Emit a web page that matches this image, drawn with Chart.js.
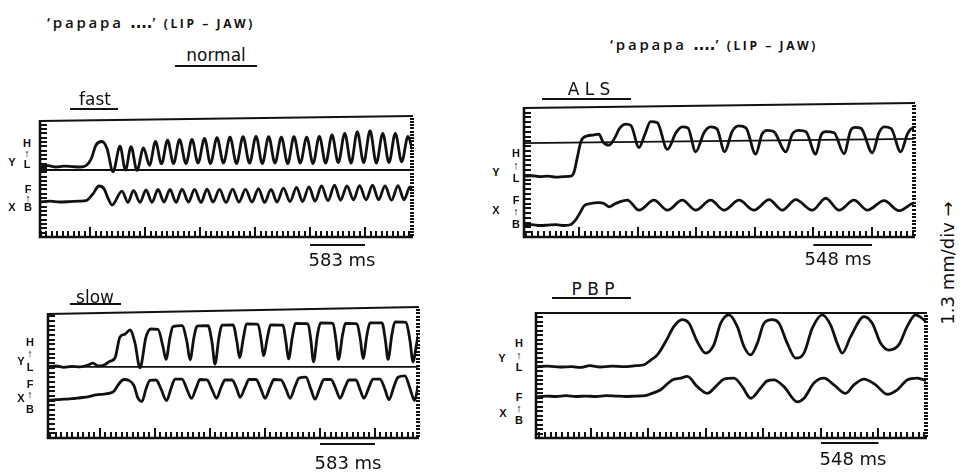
<!DOCTYPE html>
<html>
<head>
<meta charset="utf-8">
<script src="https://cdn.jsdelivr.net/npm/chart.js@4/dist/chart.umd.min.js"></script>
<style>
  body { margin: 0; width: 968px; height: 474px; background: #fff; position: relative; overflow: hidden;
         font-family: "DejaVu Sans", sans-serif; color: #111; }
  canvas { position: absolute; }
  .t { position: absolute; white-space: nowrap; line-height: 1; transform: translate(-50%, -50%); }
  .ax { font-family: "Liberation Sans", sans-serif; font-weight: bold; font-size: 11px; }
  .hd { font-family: "Open Sans", "DejaVu Sans", sans-serif; font-weight: 600; }
  .rule { position: absolute; height: 2px; background: #111; }
</style>
</head>
<body>
<script>
// ---- lip (Y) and jaw (X) traces, time in ms, position in divisions ----
const fastYms = [-530,-445,-360,-276,-191,-106,-42,11,64,127,180,244,318,376,435,498,567,631,694,758,822,885,949,1018,1081,1145,1214,1277,1346,1415,1484,1553,1622,1691,1760,1826,1894,1961,2028,2096,2162,2229,2297,2364,2431,2498,2565,2632,2700,2767,2833,2901,2968,3035,3103,3169,3236,3304,3371,3413];
const fastY   = [16.2,16.5,16.2,16.4,16.3,16.2,16.5,18.0,21.3,22.1,20.5,15.1,21.0,15.5,20.9,15.4,20.6,16.6,22.1,16.9,22.4,17.0,22.5,17.0,22.6,17.1,22.8,17.0,23.0,17.1,23.1,17.0,23.2,17.1,23.3,17.0,23.2,17.1,23.1,17.0,23.2,17.1,23.1,17.0,23.3,17.1,23.6,17.2,24.0,17.1,24.4,17.2,24.6,17.1,24.0,17.2,24.0,17.4,23.3,20.5];
const fastXms = [-530,-424,-318,-212,-106,-42,32,95,148,191,233,339,403,461,530,594,657,721,784,848,912,975,1044,1108,1177,1240,1304,1373,1442,1511,1579,1648,1717,1786,1850,1919,1982,2051,2120,2189,2253,2321,2385,2454,2523,2592,2655,2724,2793,2857,2926,2995,3058,3127,3196,3265,3328,3392,3413];
const fastX   = [8.1,8.3,8.1,8.2,8.3,8.4,10.0,11.8,11.2,9.0,7.4,10.6,8.0,10.8,8.0,10.9,8.0,11.0,8.1,11.0,8.0,11.1,8.1,11.0,8.0,11.1,8.1,11.0,8.0,11.1,8.1,11.0,8.1,11.2,8.0,11.0,8.1,11.3,8.2,11.5,8.2,11.6,8.3,11.8,8.4,12.0,8.5,11.8,8.6,11.9,8.6,12.0,8.6,11.8,8.5,11.9,8.6,11.6,11.0];

const slowYms = [-551,-466,-382,-297,-212,-127,-74,-21,42,106,159,212,265,318,371,424,488,541,615,668,700,742,774,869,922,954,997,1028,1145,1187,1219,1261,1293,1410,1452,1479,1521,1553,1675,1712,1733,1776,1808,1940,1972,1998,2041,2072,2205,2236,2263,2305,2337,2470,2502,2528,2571,2602,2724,2762,2788,2830,2862,2989,3026,3053,3095,3127,3244,3286,3318,3355,3371];
const slowY   = [15.2,15.4,15.1,15.3,15.2,15.6,16.0,15.4,15.6,16.4,17.1,21.6,22.2,23.1,20.3,15.0,21.6,23.3,23.2,19.5,16.8,21.5,23.8,24.0,20.5,16.7,21.6,23.9,24.0,20.5,15.8,21.5,24.1,24.2,20.5,17.2,21.5,24.4,24.3,20.5,17.6,21.6,24.2,24.1,20.5,16.9,21.8,24.5,24.4,20.8,16.3,22.0,24.6,24.5,20.8,16.8,22.0,24.5,24.4,20.8,17.0,22.0,24.6,24.6,20.8,16.8,22.2,24.8,24.7,20.8,16.3,20.0,21.8];
const slowXms = [-551,-466,-382,-297,-212,-127,-42,42,106,148,201,254,307,360,403,445,488,530,594,647,705,753,795,869,922,970,1018,1060,1134,1187,1235,1283,1325,1399,1452,1484,1537,1579,1654,1707,1749,1802,1844,1918,1972,2014,2067,2109,2183,2236,2279,2332,2374,2448,2502,2544,2597,2639,2714,2756,2798,2851,2894,2968,3021,3063,3116,3159,3233,3286,3334,3371];
const slowX   = [8.0,8.2,8.3,8.4,8.6,8.8,9.2,9.4,9.6,10.0,11.6,12.5,12.3,11.2,8.5,7.8,10.5,12.3,12.4,10.5,8.0,10.6,12.6,12.6,10.4,8.5,10.6,12.5,12.4,10.4,8.5,10.8,12.4,12.4,10.4,8.7,10.8,12.5,12.5,10.4,8.5,10.8,12.5,12.4,10.4,8.5,11.0,12.8,13.0,10.4,8.3,10.8,12.5,12.5,10.4,8.5,10.8,12.4,12.4,10.4,8.5,10.8,12.6,12.6,10.4,8.2,11.0,13.0,13.3,10.6,8.0,11.0];

const alsYms = [-514,-439,-365,-290,-215,-140,-75,-47,-14,19,75,131,187,224,281,327,383,439,486,561,617,670,732,826,907,966,1019,1091,1169,1231,1290,1362,1431,1496,1561,1652,1711,1761,1823,1933,1994,2057,2122,2213,2263,2307,2384,2478,2540,2581,2637,2742,2805,2852,2917,3008,3070,3116,3132];
const alsY   = [12.7,12.8,12.6,12.7,12.5,12.6,12.7,13.5,16.8,20.0,21.1,21.3,21.5,19.9,19.2,20.4,22.8,23.6,23.3,18.7,21.5,24.1,23.9,18.3,21.8,23.0,22.8,17.8,21.8,23.0,22.6,17.8,22.0,23.2,22.8,17.3,21.5,22.3,22.0,17.8,21.5,22.3,22.0,17.3,21.3,22.0,21.8,17.4,22.3,22.9,22.7,17.6,21.8,23.0,22.7,17.8,21.5,22.7,22.5];
const alsXms = [-514,-439,-365,-290,-215,-140,-75,-37,16,47,109,187,234,281,343,452,561,701,826,966,1091,1231,1356,1496,1636,1777,1901,2026,2181,2307,2431,2571,2696,2852,2992,3116,3132];
const alsX   = [2.5,2.6,2.4,2.5,2.6,2.4,2.6,3.4,5.3,6.5,7.0,7.2,7.0,6.3,7.0,7.7,5.6,7.7,5.6,7.7,5.6,7.7,5.6,7.7,5.6,7.8,5.6,7.8,5.6,8.1,5.6,7.7,5.6,7.6,5.5,7.0,7.1];

const pbpYms = [-524,-410,-295,-181,-105,-10,86,200,314,429,505,572,632,712,791,870,934,1013,1093,1172,1236,1315,1394,1458,1522,1585,1649,1728,1792,1871,1951,2030,2109,2204,2284,2347,2395,2475,2602,2681,2761,2840,2935,3014,3094,3173,3193];
const pbpY   = [16.0,16.1,15.9,16.0,15.8,16.2,15.9,16.1,16.0,16.2,16.4,17.5,18.6,21.6,25.0,26.5,25.7,21.6,19.0,20.9,25.7,27.6,25.0,20.5,18.6,21.2,25.7,26.5,25.7,21.2,17.9,19.0,24.6,27.6,25.3,21.2,19.0,22.7,27.2,25.7,21.2,19.7,20.9,25.0,27.6,26.5,26.2];
const pbpXms = [-524,-429,-334,-238,-143,-48,48,143,238,334,429,515,581,664,775,855,918,1013,1108,1204,1267,1363,1442,1522,1617,1680,1744,1839,1966,2030,2125,2220,2316,2427,2506,2602,2713,2824,2919,3014,3109,3173,3193];
const pbpX   = [9.2,9.4,9.3,9.5,9.3,9.4,9.3,9.5,9.4,9.3,9.4,9.5,10.0,10.8,13.0,13.4,13.8,11.5,10.0,11.9,13.2,13.4,11.5,8.9,11.2,12.8,13.0,11.5,8.1,8.9,12.3,13.4,11.9,10.0,11.9,13.2,11.9,9.8,10.8,13.0,13.4,13.0,12.9];

// low reference rule across each record (start, end)
const fastBase = [15.5, 15.5];
const slowBase = [15.2, 15.2];
const alsBase  = [19.6, 20.5];

// time calibration bars
const fastBarMs = 583;
const slowBarMs = 583;
const alsBarMs  = 548;
const pbpBarMs  = 548;

const toPts = (t, v) => t.map((ms, i) => ({ x: ms, y: v[i] }));

// frame: skewed top rule, ticked left/bottom edges, dotted right edge, calibration bar
const framePlugin = {
  id: 'frame',
  afterDraw(chart, args, o) {
    const { ctx, chartArea: a, scales: { x, y } } = chart;
    ctx.save();
    ctx.strokeStyle = '#111';
    ctx.fillStyle = '#111';
    ctx.lineWidth = 1.8;
    ctx.beginPath(); ctx.moveTo(a.left, a.top + o.skew); ctx.lineTo(a.right + 1, a.top); ctx.stroke();

    ctx.lineWidth = 2.6;
    ctx.beginPath(); ctx.moveTo(a.left, a.top + o.skew - 1); ctx.lineTo(a.left, a.bottom); ctx.lineTo(a.right + 1, a.bottom); ctx.stroke();

    // ticks as filled rects so they stay crisp
    const left = Math.round(a.left);
    for (let v = 0; v <= y.max; v++) {
      const py = Math.round(y.getPixelForValue(v));
      if (py < a.top + o.skew + 2) continue;
      ctx.fillRect(left, py - 1, 7, 2);
    }
    const right = Math.round(a.right);
    for (let v = 0.4; v <= y.max; v += 0.75) {
      const py = Math.round(y.getPixelForValue(v));
      ctx.fillRect(right - 2, py - 1, 4, 2);
    }

    const step = o.bar / 10;
    const base = Math.round(a.bottom);
    for (let k = Math.ceil(x.min / step); k * step <= x.max; k++) {
      const px = Math.round(x.getPixelForValue(k * step));
      const len = k % 10 === 0 ? 10 : 6;
      ctx.fillRect(px - 1, base - len, 2, len);
    }

    const b0 = x.getPixelForValue(4 * o.bar), b1 = x.getPixelForValue(5 * o.bar);
    ctx.lineWidth = 2.2;
    ctx.beginPath(); ctx.moveTo(b0, a.bottom + o.barGap); ctx.lineTo(b1, a.bottom + o.barGap); ctx.stroke();
    ctx.restore();
  }
};

function panel(box, sets, xMin, xMax, bar, skew, barGap) {
  const pad = { left: 8, right: 8, top: 8, bottom: 20 };
  const c = document.createElement('canvas');
  c.width = box.w + pad.left + pad.right;
  c.height = box.h + pad.top + pad.bottom;
  c.style.left = (box.x - pad.left) + 'px';
  c.style.top = (box.y - pad.top) + 'px';
  document.body.appendChild(c);
  new Chart(c, {
    type: 'line',
    data: { datasets: sets },
    options: {
      responsive: false, animation: false, devicePixelRatio: 1,
      layout: { padding: pad },
      scales: {
        x: { type: 'linear', min: xMin, max: xMax, display: false },
        y: { min: 0, max: 28, display: false }
      },
      elements: {
        point: { radius: 0 },
        line: { borderColor: '#111', borderWidth: 2.8, cubicInterpolationMode: 'monotone', borderJoinStyle: 'round', borderCapStyle: 'round' }
      },
      plugins: { legend: { display: false }, tooltip: { enabled: false }, frame: { bar, skew, barGap } }
    },
    plugins: [framePlugin]
  });
}

const rule = (x0, x1, v) => ({ data: [{ x: x0, y: v[0] }, { x: x1, y: v[1] }], borderWidth: 1.8, cubicInterpolationMode: 'default', tension: 0 });

panel({ x: 40, y: 116, w: 372, h: 121 },
  [rule(-530, 3413, fastBase), { data: toPts(fastYms, fastY) }, { data: toPts(fastXms, fastX) }],
  -530, 3413, fastBarMs, 5, 8);
panel({ x: 48, y: 307, w: 370, h: 131 },
  [rule(-551, 3371, slowBase), { data: toPts(slowYms, slowY) }, { data: toPts(slowXms, slowX) }],
  -551, 3371, slowBarMs, 7, 6);
panel({ x: 524, y: 103, w: 390, h: 134 },
  [rule(-514, 3132, alsBase), { data: toPts(alsYms, alsY) }, { data: toPts(alsXms, alsX) }],
  -514, 3132, alsBarMs, 5, 8);
panel({ x: 536, y: 313, w: 390, h: 125 },
  [{ data: toPts(pbpYms, pbpY) }, { data: toPts(pbpXms, pbpX) }],
  -524, 3193, pbpBarMs, 0, 5);

// text
function txt(html, cx, cy, style, cls) {
  const d = document.createElement('div');
  d.className = 't ' + (cls || '');
  d.innerHTML = html;
  d.style.left = cx + 'px'; d.style.top = cy + 'px';
  if (style) d.style.cssText += style;
  document.body.appendChild(d);
}
function underline(x0, x1, y) {
  const d = document.createElement('div');
  d.className = 'rule';
  d.style.left = x0 + 'px'; d.style.top = y + 'px'; d.style.width = (x1 - x0) + 'px';
  document.body.appendChild(d);
}

const title = '<span style="font-size:15px;letter-spacing:2.8px">\u2018papapa <b style="letter-spacing:0.5px">\u2024\u2024\u2024\u2024</b>\u2019</span>' +
  '<span style="font-size:12px;font-weight:700;letter-spacing:2.6px">&nbsp;(LIP \u2013 JAW)</span>';
txt(title, 151, 22, '', 'hd');
txt(title, 714, 44, '', 'hd');

txt('normal', 216, 55, 'font-size:17px');
underline(175, 257, 65);
txt('fast', 95, 99, 'font-size:17px');
underline(70, 118, 108);
txt('slow', 95, 297, 'font-size:17px');
underline(70, 121, 303);
txt('A L S', 589, 89, 'font-size:17px');
underline(542, 631, 98);
txt('P B P', 593, 289, 'font-size:17px');
underline(552, 631, 297);

txt('583 ms', 342, 260, 'font-size:18px');
txt('583 ms', 348, 463, 'font-size:18px');
txt('548 ms', 838, 259, 'font-size:18px');
txt('548 ms', 853, 459, 'font-size:18px');

txt('1.3 mm/div \u2192', 948, 263, 'font-size:18px;transform:translate(-50%,-50%) rotate(-90deg)');

// axis captions: Y (high/low) and X (front/back)
const caps = [
  [12, 162, 27, 143, 153, 164, 12, 207, 28, 189, 198, 207],
  [21, 361, 30, 342, 353, 367, 21, 398, 30, 384, 394, 409],
  [496, 172, 516, 153, 165, 178, 496, 210, 516, 200, 211, 224],
  [502, 358, 519, 343, 355, 367, 503, 413, 519, 397, 408, 420]
];
caps.forEach(c => {
  txt('Y', c[0], c[1], '', 'ax');
  txt('H', c[2], c[3], '', 'ax');
  txt('\u2191', c[2], c[4], 'font-size:11px', 'ax');
  txt('L', c[2], c[5], '', 'ax');
  txt('X', c[6], c[7], '', 'ax');
  txt('F', c[8], c[9], '', 'ax');
  txt('\u2191', c[8], c[10], 'font-size:11px', 'ax');
  txt('B', c[8], c[11], '', 'ax');
});
</script>
</body>
</html>
